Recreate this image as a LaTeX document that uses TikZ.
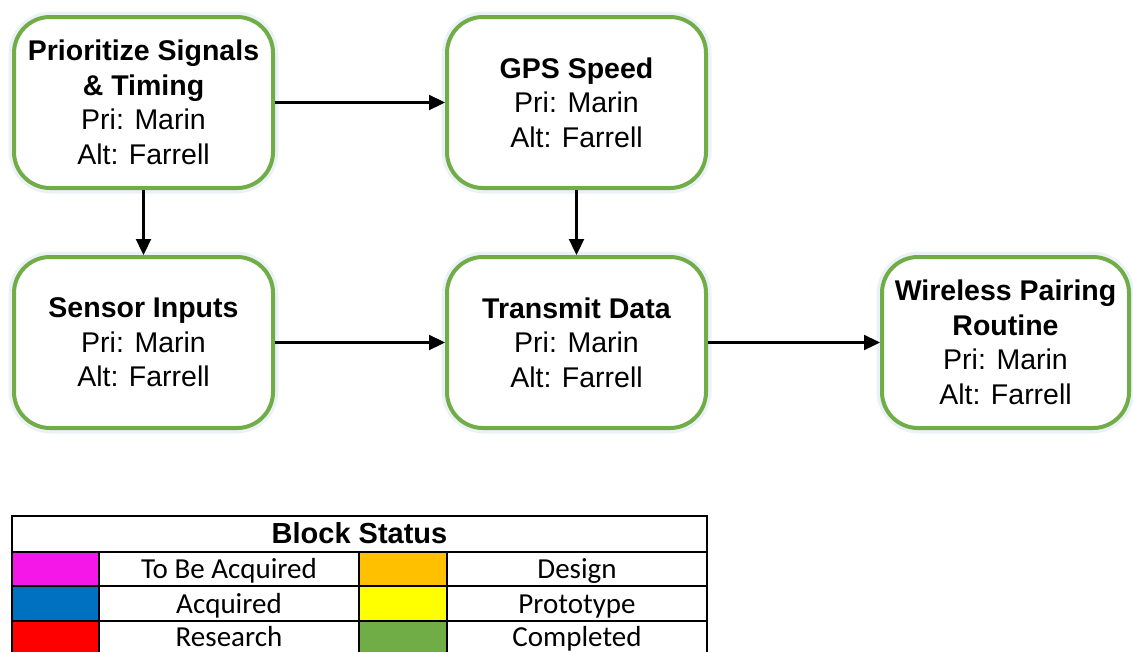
\documentclass[tikz,border=0pt]{standalone}
\usepackage{fontspec}
\setmainfont{Liberation Sans}
\newfontfamily\tablefont{Carlito}
\usetikzlibrary{arrows.meta}

\definecolor{blockgreen}{RGB}{112,173,71}
\definecolor{haze}{RGB}{150,175,215}
\definecolor{stMagenta}{RGB}{245,22,232}
\definecolor{stBlue}{RGB}{0,112,192}
\definecolor{stRed}{RGB}{255,0,0}
\definecolor{stOrange}{RGB}{255,192,0}
\definecolor{stYellow}{RGB}{255,255,0}
\definecolor{stGreen}{RGB}{112,173,71}

\begin{document}
\begin{tikzpicture}[x=1pt,y=-1pt,
  block/.style={draw=blockgreen, line width=4pt, rounded corners=36pt,
    fill=white, minimum width=259pt, minimum height=171pt,
    align=center, inner sep=0pt, font=\fontsize{28.5}{34.5}\selectfont},
  glow/.style={draw=haze, opacity=0.18, line width=9pt, rounded corners=38pt},
  flow/.style={-{Triangle[length=16pt,width=15pt]}, line width=2.3pt},
  grid/.style={line width=2.5pt, line cap=rect},
  tabtxt/.style={anchor=base, inner sep=0pt, font=\tablefont\fontsize{29}{32}\selectfont},
  tabhead/.style={anchor=base, inner sep=0pt, font=\bfseries\fontsize{29}{32}\selectfont}]

\useasboundingbox (0,0) rectangle (1133,651);
\clip (0,0) rectangle (1133,651);

% soft halo behind the blocks
\foreach \cx/\cy/\w in {143.5/102.5/263, 576.5/102.5/263, 143.5/342.5/263, 576.5/342.5/263, 1005.5/342.5/251}
  \draw[glow] (\cx-\w/2+1,\cy-86.5) rectangle (\cx+\w/2-1,\cy+86.5);

% blocks
\node[block] (prio) at (143.5,102.5)
  {\textbf{Prioritize Signals}\\\textbf{\& Timing}\\Pri: Marin\\Alt: Farrell};
\node[block] (gps) at (576.5,102.5)
  {\textbf{GPS Speed}\\Pri: Marin\\Alt: Farrell};
\node[block] (sensor) at (143.5,342.5)
  {\textbf{Sensor Inputs}\\Pri: Marin\\Alt: Farrell};
\node[block] (tx) at (576.5,342.5)
  {\textbf{Transmit Data}\\Pri: Marin\\Alt: Farrell};
\node[block, minimum width=247pt] (wireless) at (1005.5,342.5)
  {\textbf{Wireless Pairing}\\\textbf{Routine}\\Pri: Marin\\Alt: Farrell};

% connectors
\draw[flow] (prio) -- (gps);
\draw[flow] (prio) -- (sensor);
\draw[flow] (gps) -- (tx);
\draw[flow] (sensor) -- (tx);
\draw[flow] (tx) -- (wireless);

% status legend: colour swatches
\fill[stMagenta] (12,552) rectangle (99,586);
\fill[stBlue]    (12,586) rectangle (99,621);
\fill[stRed]     (12,621) rectangle (99,656);
\fill[stOrange]  (359,552) rectangle (447,586);
\fill[stYellow]  (359,586) rectangle (447,621);
\fill[stGreen]   (359,621) rectangle (447,656);

% status legend: ruling
\draw[grid] (12,516) rectangle (707,656);
\foreach \y in {552,586,621} \draw[grid] (12,\y) -- (707,\y);
\foreach \x in {99,359,447} \draw[grid] (\x,552) -- (\x,656);

% status legend: labels
\node[tabhead] (hdr) at (359.5,543) {Block Status};
\node[tabtxt] (lAcq) at (229,578.5) {To Be Acquired};
\node[tabtxt] (lGot) at (229,613) {Acquired};
\node[tabtxt] (lRes) at (229,646) {Research};
\node[tabtxt] (lDes) at (577,578.5) {Design};
\node[tabtxt] (lPro) at (577,613) {Prototype};
\node[tabtxt] (lCom) at (577,646) {Completed};
\end{tikzpicture}
\end{document}
